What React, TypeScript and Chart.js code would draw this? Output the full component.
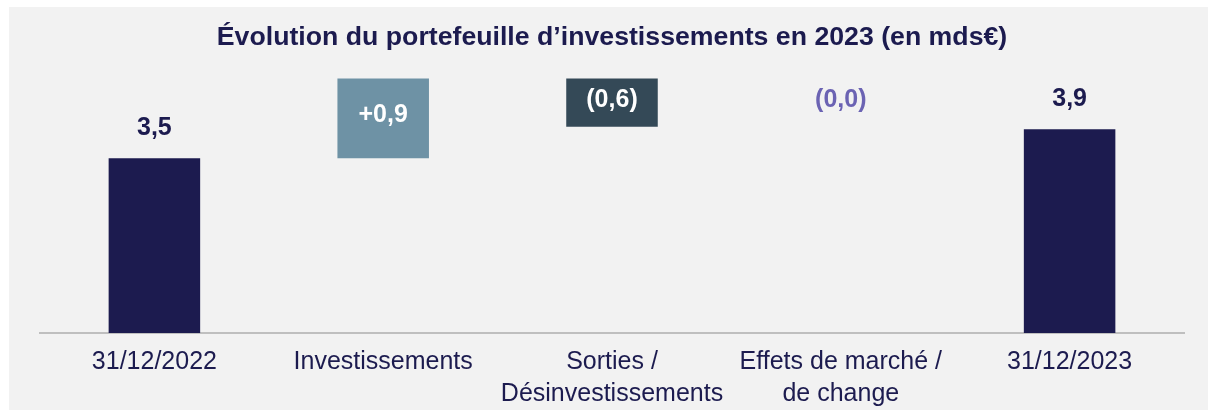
import React, { useEffect, useRef } from "react";
import { Chart, registerables } from "chart.js";

Chart.register(...registerables);

const categories: (string | string[])[] = [
  "31/12/2022",
  "Investissements",
  ["Sorties /", "Désinvestissements"],
  ["Effets de marché /", "de change"],
  "31/12/2023",
];
// floating bar extents (stylised waterfall)
const barStart = [0, 3.5, 4.13, 4.13, 0];
const barEnd = [3.5, 5.1, 5.1, 5.1, 4.08];
const valueLabels = ["3,5", "+0,9", "(0,6)", "(0,0)", "3,9"];
const isTotal = [true, false, false, false, true];
const barColors = ["#1c1b4f", "#6e92a5", "#344957", "rgba(0,0,0,0)", "#1c1b4f"];
const labelColors = ["#1c1b4f", "#ffffff", "#ffffff", "#6b63b3", "#1c1b4f"];

const FONT = "'Liberation Sans', Arial, sans-serif";

const labelPlugin = {
  id: "valueLabels",
  afterDatasetsDraw(chart: any) {
    const ctx = chart.ctx;
    const meta = chart.getDatasetMeta(0);
    ctx.save();
    ctx.font = `bold 25px ${FONT}`;
    ctx.textAlign = "center";
    ctx.textBaseline = "middle";
    meta.data.forEach((el: any, i: number) => {
      const top = Math.min(el.y, el.base);
      const bottom = Math.max(el.y, el.base);
      ctx.fillStyle = labelColors[i];
      const y = isTotal[i] ? top - 30 : (top + bottom) / 2 - 3;
      ctx.fillText(valueLabels[i], el.x, y);
    });
    ctx.restore();
  },
};

export default function App() {
  const ref = useRef<HTMLCanvasElement | null>(null);
  useEffect(() => {
    if (!ref.current) return;
    const chart = new Chart(ref.current, {
      type: "bar",
      data: {
        labels: categories as any,
        datasets: [
          {
            data: barStart.map((s, i) => [s, barEnd[i]]) as any,
            backgroundColor: barColors,
            borderWidth: 0,
            barPercentage: 0.4,
            categoryPercentage: 1,
          },
        ],
      },
      options: {
        animation: false,
        responsive: true,
        maintainAspectRatio: false,
        layout: { padding: { left: 31, right: 24, top: 0, bottom: -5 } },
        plugins: {
          legend: { display: false },
          tooltip: { enabled: false },
          title: {
            display: true,
            text: "Évolution du portefeuille d’investissements en 2023 (en mds€)",
            color: "#1c1b4f",
            font: { family: FONT, size: 26.7, weight: "bold" },
            padding: { top: 14.8, bottom: 4.6 },
          },
        },
        scales: {
          x: {
            grid: { display: false },
            border: { display: true, color: "#bfbfbf", width: 2 },
            ticks: {
              color: "#1c1b4f",
              font: { family: FONT, size: 25, lineHeight: 1.28 },
              padding: 5,
              autoSkip: false,
              maxRotation: 0,
              minRotation: 0,
            },
          },
          y: { display: false, min: 0, max: 5.5 },
        },
      },
      plugins: [labelPlugin],
    });
    return () => chart.destroy();
  }, []);
  return (
    <div
      style={{
        position: "absolute",
        left: 9,
        top: 7,
        width: 1199,
        height: 403,
        background: "#f2f2f2",
      }}
    >
      <canvas ref={ref} />
    </div>
  );
}
